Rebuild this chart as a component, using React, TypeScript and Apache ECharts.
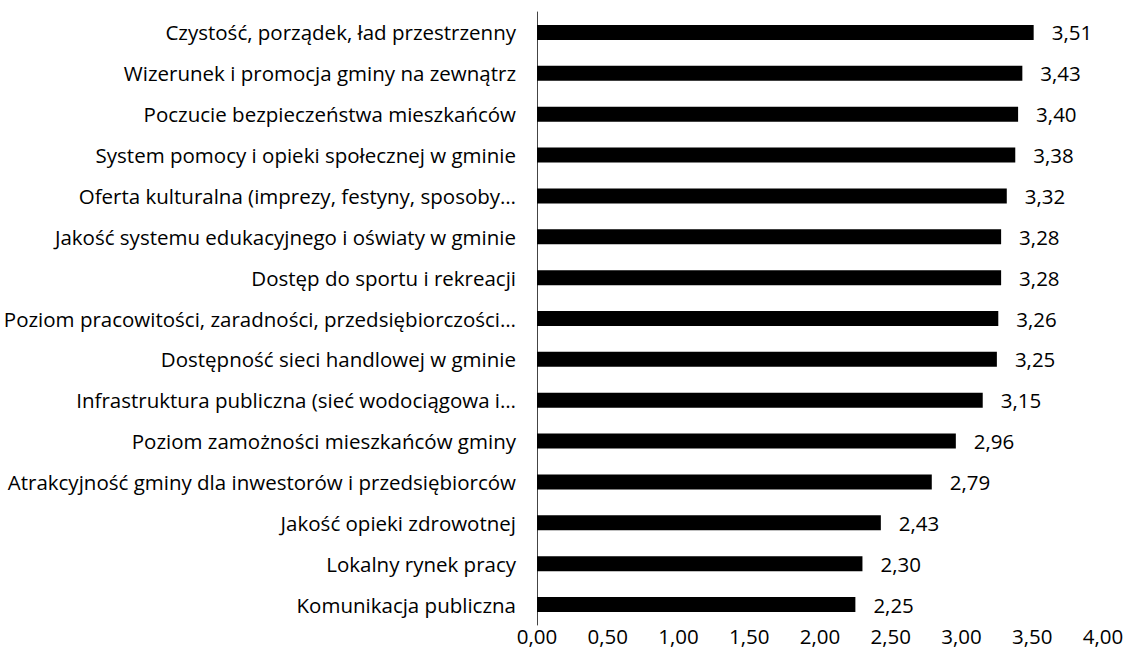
import React, { useEffect, useRef } from "react";
import * as echarts from "echarts";

const categories = [
  "Czystość, porządek, ład przestrzenny",
  "Wizerunek i promocja gminy na zewnątrz",
  "Poczucie bezpieczeństwa mieszkańców",
  "System pomocy i opieki społecznej w gminie",
  "Oferta kulturalna (imprezy, festyny, sposoby…",
  "Jakość systemu edukacyjnego i oświaty w gminie",
  "Dostęp do sportu i rekreacji",
  "Poziom pracowitości, zaradności, przedsiębiorczości…",
  "Dostępność sieci handlowej w gminie",
  "Infrastruktura publiczna (sieć wodociągowa i…",
  "Poziom zamożności mieszkańców gminy",
  "Atrakcyjność gminy dla inwestorów i przedsiębiorców",
  "Jakość opieki zdrowotnej",
  "Lokalny rynek pracy",
  "Komunikacja publiczna",
];
const values = [3.51, 3.43, 3.4, 3.38, 3.32, 3.28, 3.28, 3.26, 3.25, 3.15, 2.96, 2.79, 2.43, 2.3, 2.25];

const fmt = (v: number) => v.toFixed(2).replace(".", ",");

export default function App() {
  const ref = useRef<HTMLDivElement>(null);
  useEffect(() => {
    if (!ref.current) return;
    const chart = echarts.init(ref.current, null, { renderer: "svg" });
    const font = "'Open Sans', sans-serif";
    chart.setOption({
      animation: false,
      backgroundColor: "#ffffff",
      grid: { left: 537, right: 27, top: 12, bottom: 44, containLabel: false },
      xAxis: {
        type: "value",
        min: 0,
        max: 4,
        interval: 0.5,
        axisLine: { show: false },
        axisTick: { show: false },
        splitLine: { show: false },
        axisLabel: {
          margin: 0,
          color: "#000",
          fontSize: 20.5,
          fontFamily: font,
          formatter: (v: number) => fmt(v),
        },
      },
      yAxis: {
        type: "category",
        inverse: true,
        data: categories,
        axisLine: { show: true, lineStyle: { color: "#444", width: 1 } },
        axisTick: { show: false },
        axisLabel: { margin: 21, color: "#000", fontSize: 20.5, fontFamily: font },
      },
      series: [
        {
          type: "bar",
          data: values,
          barWidth: 15,
          itemStyle: { color: "#000" },
          label: {
            show: true,
            position: "right",
            distance: 18,
            color: "#000",
            fontSize: 20.5,
            fontFamily: font,
            formatter: (p: any) => fmt(p.value),
          },
        },
      ],
    });
    return () => chart.dispose();
  }, []);
  return <div ref={ref} style={{ width: 1130, height: 669, position: "absolute", left: 0, top: 0 }} />;
}
